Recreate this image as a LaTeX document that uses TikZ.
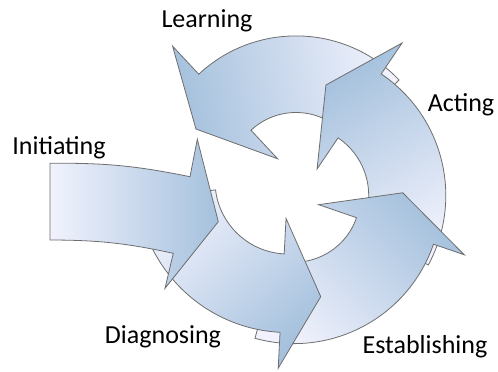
\documentclass[tikz,border=0pt]{standalone}
\usepackage{fontspec}
\setmainfont{Carlito}
\definecolor{headblue}{RGB}{165,193,221}
\definecolor{taillav}{RGB}{241,242,253}
\definecolor{rimgray}{RGB}{110,110,110}
\tikzset{
  cyclearrow/.style={draw=rimgray, line width=0.6pt, line join=miter},
  phase/.style={font=\fontsize{19.5}{23}\selectfont, anchor=base, inner sep=0pt}
}

\begin{document}
\begin{tikzpicture}[x=0.75pt, y=0.75pt]
\useasboundingbox (0,0) rectangle (498,371);

% Learning (drawn first, its tail sits under Acting)
\begin{scope}[shift={(296,192.5)}]
\draw[cyclearrow, bottom color=taillav, top color=headblue, shading angle=100]
  (43.7:66) -- (43.7:142.6) arc[start angle=43.7, end angle=133, radius=142.6]
  -- (133:181) -- (153.7:111.6) -- (133:27) -- (133:66)
  arc[start angle=133, end angle=43.7, radius=66] -- cycle;
\end{scope}

% Acting
\begin{scope}[shift={(299.2,175.5)}]
\draw[cyclearrow, bottom color=taillav, top color=headblue, shading angle=30]
  (-28.3:69.5) -- (-28.3:146.6) arc[start angle=-28.3, end angle=56, radius=146.6]
  -- (56:184) -- (76.4:113.7) -- (56:32) -- (56:69.5)
  arc[start angle=56, end angle=-28.3, radius=69.5] -- cycle;
\end{scope}

% Establishing
\begin{scope}[shift={(294.1,174.8)}]
\draw[cyclearrow, bottom color=taillav, top color=headblue, shading angle=-45]
  (-105.4:66) -- (-105.4:147.4) arc[start angle=-105.4, end angle=-19, radius=147.4]
  -- (-19:180) -- (1.8:108.7) -- (-19:26) -- (-19:66)
  arc[start angle=-19, end angle=-105.4, radius=66] -- cycle;
\end{scope}

% Diagnosing
\begin{scope}[shift={(288,190)}]
\draw[cyclearrow, bottom color=taillav, top color=headblue, shading angle=-137]
  (187:73) -- (187:151.5) arc[start angle=187, end angle=267, radius=151.5]
  -- (267:187.5) -- (285.8:120.2) -- (267:37.5) -- (267:73)
  arc[start angle=267, end angle=187, radius=73] -- cycle;
\end{scope}

% Initiating
\draw[cyclearrow, left color=taillav, right color=headblue]
  (50,207.7) to[bend left=6] (190,194.3) -- (197.3,231.7) -- (218.3,149.3)
  -- (165,82.7) -- (173.3,117.7) to[bend right=6] (50,131) -- cycle;

\node[phase] (learning) at (207,343) {Learning};
\node[phase] (acting) at (461,259) {Acting};
\node[phase] (initiating) at (59,216) {Initiating};
\node[phase] (diagnosing) at (163,27.7) {Diagnosing};
\node[phase] (establishing) at (425,17.7) {Establishing};

\end{tikzpicture}
\end{document}
